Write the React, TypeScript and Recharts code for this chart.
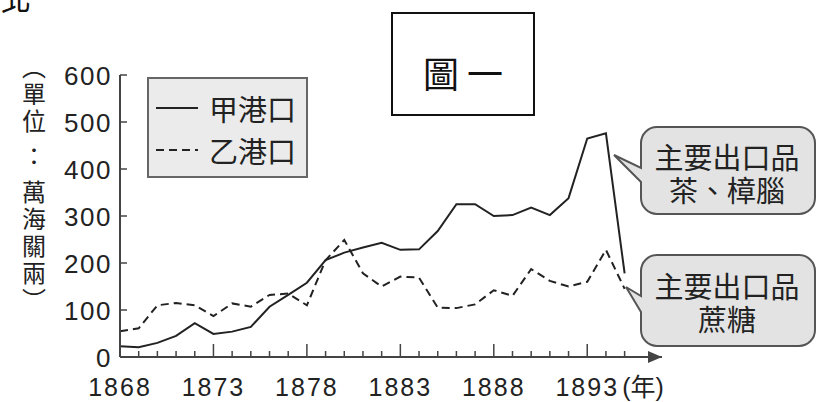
import React from 'react';
import { LineChart, Line, XAxis, YAxis, Legend, ReferenceDot } from 'recharts';

const years = [
  1868, 1869, 1870, 1871, 1872, 1873, 1874, 1875, 1876, 1877, 1878, 1879, 1880, 1881,
  1882, 1883, 1884, 1885, 1886, 1887, 1888, 1889, 1890, 1891, 1892, 1893, 1894, 1895,
];
// 甲港口 (solid)
const portA = [
  23, 21, 30, 45, 72, 49, 54, 64, 107, 132, 158, 206, 222, 233,
  243, 228, 229, 268, 325, 325, 300, 302, 318, 302, 338, 465, 476, 178,
];
// 乙港口 (dashed)
const portB = [
  55, 61, 110, 115, 110, 87, 114, 107, 132, 135, 110, 206, 249, 178,
  150, 171, 169, 105, 104, 112, 142, 130, 187, 162, 150, 160, 228, 145,
];
const seriesNames = ['甲港口', '乙港口'];
const yTicks = [0, 100, 200, 300, 400, 500, 600];
const labelYears = [1868, 1873, 1878, 1883, 1888, 1893];
const yearUnit = '(年)';
const unitLabel = ['︵', '單', '位', '：', '萬', '海', '關', '兩', '︶'];
const figTitle = '圖一';
const cornerText = '北';
const calloutA = ['主要出口品', '茶、樟腦'];
const calloutB = ['主要出口品', '蔗糖'];

const data = years.map((year, i) => ({ year, a: portA[i], b: portB[i] }));

const NUM = '"Liberation Sans", Arial, "Noto Sans CJK TC", sans-serif';
const CJK = '"Noto Sans CJK TC", "Noto Sans CJK JP", sans-serif';
const INK = '#222';
const AXIS = '#444';

const XTick = (props: any) => {
  const { x, y, payload } = props;
  const v = payload.value;
  const major = labelYears.includes(v);
  return (
    <g>
      {v !== years[0] && (
        <line x1={x} x2={x} y1={y} y2={y - (major ? 13 : 6)} stroke={AXIS} strokeWidth={1.5} />
      )}
      {major && (
        <text x={x} y={y + 39} textAnchor="middle" fontFamily={NUM} fontSize={25} letterSpacing={2} fill={INK}>
          {v}
        </text>
      )}
      {v === labelYears[labelYears.length - 1] && (
        <text x={x + 35} y={y + 39} textAnchor="start" fontFamily={NUM} fontSize={25} fill={INK}>
          {yearUnit}
        </text>
      )}
    </g>
  );
};

const YTick = (props: any) => {
  const { x, y, payload } = props;
  return (
    <g>
      {payload.value !== 0 && <line x1={x} x2={x + 7} y1={y} y2={y} stroke={AXIS} strokeWidth={1.5} />}
      <text x={x - 8} y={y + 9.5} textAnchor="end" fontFamily={NUM} fontSize={26} letterSpacing={1.5} fill={INK}>
        {payload.value}
      </text>
    </g>
  );
};

const Arrow = (props: any) => {
  const { cx, cy } = props;
  return <path d={`M${cx},${cy} L${cx - 14},${cy - 6} L${cx - 14},${cy + 6} Z`} fill={AXIS} />;
};

const renderLegend = (props: any) => {
  const items = [...(props.payload || [])].sort(
    (p: any, q: any) => seriesNames.indexOf(p.value) - seriesNames.indexOf(q.value),
  );
  return (
    <div
      style={{
        width: 161,
        height: 101,
        boxSizing: 'border-box',
        background: '#ebebeb',
        border: '2px solid #666',
        padding: '8px 0 0 7px',
      }}
    >
      {items.map((entry: any, i: number) => (
        <div key={i} style={{ display: 'flex', alignItems: 'center', height: 42 }}>
          <svg width={44} height={4} style={{ display: 'block' }}>
            <line
              x1={0}
              x2={42}
              y1={2}
              y2={2}
              stroke={INK}
              strokeWidth={2}
              strokeDasharray={entry.payload?.strokeDasharray}
            />
          </svg>
          <span style={{ marginLeft: 9, fontSize: 29, lineHeight: '42px', fontFamily: CJK, color: INK }}>
            {entry.value}
          </span>
        </div>
      ))}
    </div>
  );
};

const bubble = (x0: number, y0: number, x1: number, y1: number, r: number, tx: number, ty: number, b0: number, b1: number) =>
  `M${x0 + r},${y0} H${x1 - r} A${r},${r} 0 0 1 ${x1},${y0 + r} V${y1 - r} A${r},${r} 0 0 1 ${x1 - r},${y1} ` +
  `H${x0 + r} A${r},${r} 0 0 1 ${x0},${y1 - r} V${b1} L${tx},${ty} L${x0},${b0} V${y0 + r} A${r},${r} 0 0 1 ${x0 + r},${y0} Z`;

export default function App() {
  return (
    <div style={{ position: 'relative', width: 823, height: 402, background: '#fff', overflow: 'hidden' }}>
      <style>{'body{margin:0}'}</style>
      <LineChart
        width={823}
        height={402}
        data={data}
        margin={{ top: 75, right: 161, bottom: 0, left: 0 }}
      >
        <XAxis
          dataKey="year"
          type="number"
          domain={[1868, 1897]}
          ticks={years}
          interval={0}
          height={45}
          tickSize={0}
          tickMargin={0}
          tickLine={false}
          axisLine={{ stroke: AXIS, strokeWidth: 2 }}
          tick={<XTick />}
        />
        <YAxis
          domain={[0, 600]}
          ticks={yTicks}
          interval={0}
          width={120}
          tickSize={0}
          tickMargin={0}
          tickLine={false}
          axisLine={{ stroke: AXIS, strokeWidth: 2 }}
          tick={<YTick />}
        />
        <Legend
          content={renderLegend}
          layout="horizontal"
          verticalAlign="middle"
          align="center"
          wrapperStyle={{ left: 147, top: 77, width: 161, height: 101 }}
        />
        <Line
          type="linear"
          dataKey="a"
          name={seriesNames[0]}
          stroke={INK}
          strokeWidth={2}
          dot={false}
          activeDot={false}
          isAnimationActive={false}
        />
        <Line
          type="linear"
          dataKey="b"
          name={seriesNames[1]}
          stroke={INK}
          strokeWidth={2}
          strokeDasharray="8 5"
          dot={false}
          activeDot={false}
          isAnimationActive={false}
        />
        <ReferenceDot x={1897} y={0} ifOverflow="visible" shape={<Arrow />} />
      </LineChart>

      <div
        style={{
          position: 'absolute',
          left: 21,
          top: 52,
          width: 26,
          fontFamily: CJK,
          fontSize: 24,
          color: INK,
          textAlign: 'center',
        }}
      >
        {unitLabel.map((c, i) => (
          <div key={i} style={{ height: c === '：' ? 44 : 27, lineHeight: c === '：' ? '44px' : '27px' }}>
            {c}
          </div>
        ))}
      </div>

      <svg width={823} height={402} style={{ position: 'absolute', left: 0, top: 0, pointerEvents: 'none' }}>
        <text x={1} y={10} fontFamily={CJK} fontSize={30} fill="#111">
          {cornerText}
        </text>
        <rect x={392} y={13} width={142} height={102} fill="#fff" stroke="#111" strokeWidth={2} />
        <text x={467} y={72} textAnchor="middle" dominantBaseline="central" fontFamily={CJK} fontSize={36} letterSpacing={8} fill="#111">
          {figTitle}
        </text>

        <path d={bubble(641, 127, 815, 214, 16, 614, 155, 168, 182)} fill="#e3e3e3" stroke="#555" strokeWidth={2} />
        {calloutA.map((t, i) => (
          <text key={i} x={727} y={156 + i * 33} textAnchor="middle" dominantBaseline="central" fontFamily={CJK} fontSize={29} fill={INK}>
            {t}
          </text>
        ))}

        <path d={bubble(641, 255, 815, 346, 16, 626, 287, 296, 312)} fill="#e3e3e3" stroke="#555" strokeWidth={2} />
        {calloutB.map((t, i) => (
          <text key={i} x={727} y={285 + i * 33} textAnchor="middle" dominantBaseline="central" fontFamily={CJK} fontSize={29} fill={INK}>
            {t}
          </text>
        ))}
      </svg>
    </div>
  );
}
